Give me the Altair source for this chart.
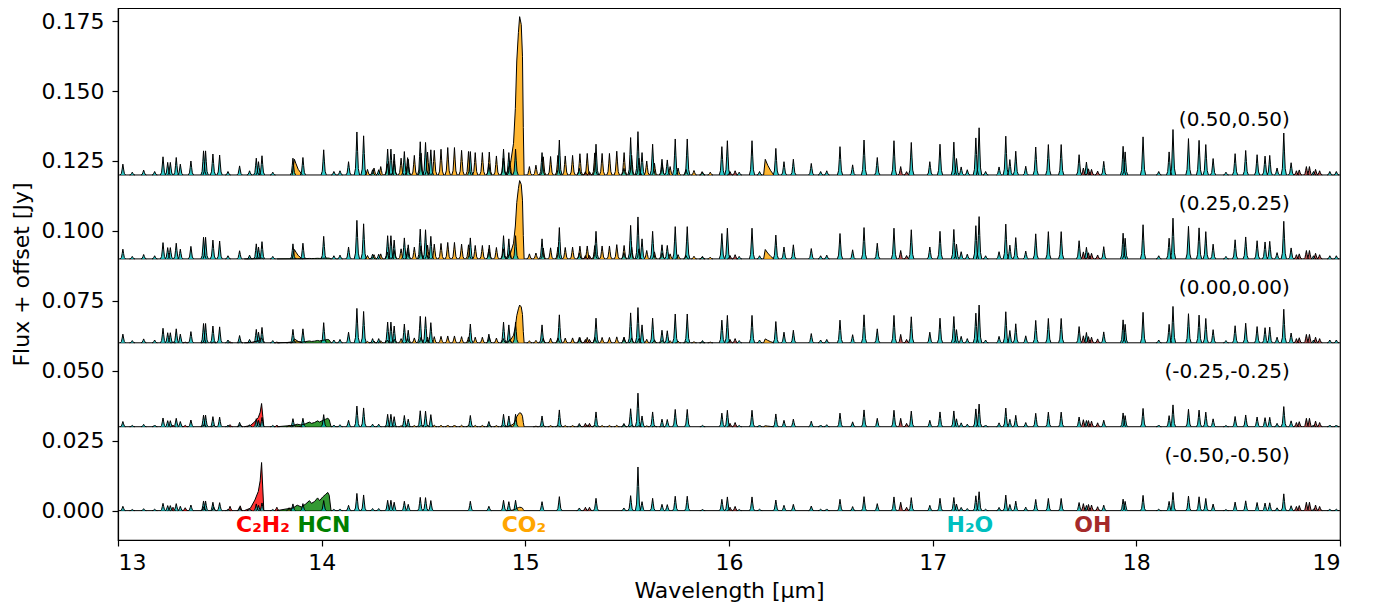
import altair as alt
import pandas as pd

# ---------------- data ----------------
MODELS = ["(0.50,0.50)", "(0.25,0.25)", "(0.00,0.00)", "(-0.25,-0.25)", "(-0.50,-0.50)"]
OFFSETS = [0.12, 0.09, 0.06, 0.03, 0.0]

# per-model strengths
H2O_SCALE = [1.25, 1.12, 1.0, 0.6, 0.5]
CO2_SCALE = [1.0, 0.6, 0.25, 0.06, 0.012]
CO2_Q_PEAK = [0.0566, 0.028, 0.0135, 0.005, 0.0012]
C2H2_PEAK = [0.0, 0.0003, 0.0018, 0.0083, 0.0172]
HCN_PEAK = [0.0, 0.0003, 0.0012, 0.003, 0.0065]

# H2O lines (wavelength [um], peak flux for the (0.00,0.00) model)
H2O_WL = [13.024, 13.07, 13.126, 13.18, 13.221, 13.244, 13.257, 13.286, 13.306, 13.358,
          13.420, 13.430, 13.466, 13.499, 13.54, 13.597, 13.646, 13.679, 13.690, 13.707,
          13.76, 13.859, 13.908, 14.010, 14.06, 14.09, 14.132, 14.173, 14.206, 14.25,
          14.28, 14.324, 14.340, 14.356, 14.406, 14.425, 14.484, 14.510, 14.536, 14.730,
          14.821, 14.893, 14.919, 14.952, 15.082, 15.167, 15.265, 15.347, 15.484, 15.517,
          15.573, 15.625, 15.671, 15.697, 15.736, 15.795, 15.87, 15.965, 15.992, 16.05,
          16.113, 16.15, 16.230, 16.270, 16.316, 16.404, 16.45, 16.48, 16.545, 16.607,
          16.663, 16.728, 16.810, 16.895, 16.986, 17.036, 17.104, 17.117, 17.140, 17.170,
          17.212, 17.228, 17.26, 17.326, 17.359, 17.379, 17.408, 17.457, 17.506, 17.568,
          17.631, 17.719, 17.755, 17.840, 17.935, 17.945, 18.033, 18.11, 18.161, 18.180,
          18.256, 18.308, 18.341, 18.377, 18.44, 18.485, 18.537, 18.593, 18.632, 18.655,
          18.691, 18.724, 18.760, 18.87, 18.95, 18.982]
H2O_H = [0.0031, 0.0008, 0.0014, 0.0010, 0.0052, 0.0036, 0.0036, 0.0050, 0.0031, 0.0040,
         0.0069, 0.0069, 0.0060, 0.0057, 0.0010, 0.0026, 0.0012, 0.0048, 0.0038, 0.0055,
         0.0008, 0.0048, 0.0050, 0.0072, 0.0010, 0.0012, 0.0038, 0.0123, 0.0112, 0.0015,
         0.0015, 0.0074, 0.0074, 0.0060, 0.0067, 0.0045, 0.0095, 0.0093, 0.0072, 0.0067,
         0.0031, 0.0074, 0.0064, 0.0074, 0.0064, 0.0100, 0.0019, 0.0088, 0.0019, 0.0107,
         0.0064, 0.0088, 0.0045, 0.0043, 0.0103, 0.0103, 0.0008, 0.0081, 0.0098, 0.0008,
         0.0098, 0.0010, 0.0076, 0.0038, 0.0045, 0.0033, 0.0010, 0.0012, 0.0081, 0.0029,
         0.0100, 0.0050, 0.0098, 0.0093, 0.0038, 0.0088, 0.0094, 0.0047, 0.0023, 0.0015,
         0.0106, 0.0135, 0.0010, 0.0023, 0.0111, 0.0044, 0.0068, 0.0025, 0.0080, 0.0087,
         0.0087, 0.0058, 0.0037, 0.0039, 0.0082, 0.0066, 0.0109, 0.0010, 0.0066, 0.0130,
         0.0104, 0.0099, 0.0087, 0.0047, 0.0008, 0.0061, 0.0070, 0.0058, 0.0054, 0.0056,
         0.0020, 0.0120, 0.0035, 0.0010, 0.0010, 0.0010]
# one strong line that does not follow the H2O scaling
STRONG_WL = 15.553
STRONG_H = [0.0155, 0.0150, 0.0126, 0.0120, 0.0156]

# OH lines (same in every model)
OH_WL = [15.295, 15.315, 16.005, 16.030, 16.843, 16.872, 17.740, 17.765, 17.780, 17.810,
         18.786, 18.800, 18.835, 18.850, 18.880, 18.900]
OH_H = [0.0012, 0.0012, 0.0012, 0.0015, 0.0030, 0.0012, 0.0025, 0.0022, 0.0020, 0.0014,
        0.0015, 0.0018, 0.0030, 0.0030, 0.0020, 0.0015]

# CO2 P/R branch lines (peak flux for the (0.50,0.50) model)
CO2_WL = [14.225, 14.257, 14.290, 14.323, 14.356, 14.390, 14.422, 14.455, 14.488, 14.520,
          14.553, 14.586, 14.619, 14.652, 14.687, 14.721, 14.754, 14.789, 14.823, 14.858,
          14.892, 14.924, 15.020, 15.052, 15.088, 15.124, 15.160, 15.196, 15.232, 15.268,
          15.304, 15.341, 15.377, 15.413, 15.449, 15.485, 15.522, 15.558, 15.596, 15.634,
          15.672, 15.711, 15.750, 15.789, 15.828, 15.868, 15.908]
CO2_H = [0.0020, 0.0025, 0.0030, 0.0040, 0.0050, 0.0060, 0.0062, 0.0070, 0.0078, 0.0082,
         0.0088, 0.0092, 0.0098, 0.0098, 0.0088, 0.0084, 0.0080, 0.0080, 0.0082, 0.0068,
         0.0060, 0.0050, 0.0030, 0.0035, 0.0065, 0.0066, 0.0070, 0.0068, 0.0070, 0.0076,
         0.0077, 0.0079, 0.0077, 0.0077, 0.0085, 0.0080, 0.0070, 0.0060, 0.0050, 0.0042,
         0.0035, 0.0030, 0.0025, 0.0020, 0.0016, 0.0012, 0.0010]
# CO2 Q-branch (relative shape)
CO2Q_WL = [14.905, 14.928, 14.942, 14.951, 14.958, 14.966, 14.972, 14.980, 14.986, 14.990, 14.994]
CO2Q_REL = [0.0, 0.08, 0.2, 0.42, 0.72, 0.9, 1.0, 0.95, 0.75, 0.3, 0.0]
# CO2 hot-band Q-branches (flux for the (0.50,0.50) model)
CO2HB1_WL = [13.855, 13.866, 13.874, 13.885, 13.905]
CO2HB1_H = [0.0, 0.0056, 0.0040, 0.0020, 0.0]
CO2HB2_WL = [16.170, 16.178, 16.190, 16.205, 16.220]
CO2HB2_H = [0.0, 0.0056, 0.0035, 0.0015, 0.0]

# C2H2 Q-branch (relative shape) and weak P/R lines (relative)
C2H2Q_WL = [13.620, 13.650, 13.672, 13.689, 13.698, 13.705, 13.711, 13.716]
C2H2Q_REL = [0.0, 0.05, 0.22, 0.4, 0.62, 1.0, 0.45, 0.0]
C2H2_WL = [13.27, 13.33, 13.42, 13.47, 13.55, 13.60, 13.78, 13.84]
C2H2_REL = [0.07, 0.06, 0.08, 0.07, 0.09, 0.1, 0.07, 0.06]

# HCN band (relative shape)
HCN_WL = [13.780, 13.820, 13.860, 13.880, 13.900, 13.920, 13.940, 13.950, 13.965, 13.980,
          13.990, 14.005, 14.020, 14.030, 14.037, 14.046]
HCN_REL = [0.0, 0.08, 0.15, 0.3, 0.2, 0.35, 0.55, 0.4, 0.5, 0.7, 0.55, 0.75, 0.9, 1.0, 0.85, 0.0]

MOLS = ["C2H2", "HCN", "CO2", "H2O", "OH"]
MOL_LABELS = ["C\u2082H\u2082", "HCN", "CO\u2082", "H\u2082O", "OH"]
MOL_COLORS = ["#ff0000", "#008000", "#ffa500", "#00bfbf", "#a52a2a"]
MOL_LABEL_X = [13.712, 14.011, 14.993, 17.183, 17.786]

# ---------------- build the table ----------------
PROFILE_DX = [-0.013, -0.007, -0.0035, 0.0, 0.0035, 0.007, 0.013]
PROFILE_FRAC = [0.0, 0.15, 0.55, 1.0, 0.55, 0.15, 0.0]

rows = []
counter = [0]


def add_poly(m, mol, wls, vals):
    if max(vals) < 0.0002:
        return
    counter[0] += 1
    pid = f"p{counter[0]}"
    for w, v in zip(wls, vals):
        rows.append({"mol": mol, "poly": pid, "wl": round(w, 5),
                     "top": round(OFFSETS[m] + v, 6), "base": OFFSETS[m]})


def add_line(m, mol, c, h):
    add_poly(m, mol, [c + d for d in PROFILE_DX], [h * f for f in PROFILE_FRAC])


for m in range(len(MODELS)):
    for w, h in zip(H2O_WL, H2O_H):
        add_line(m, "H2O", w, h * H2O_SCALE[m])
    add_line(m, "H2O", STRONG_WL, STRONG_H[m])
    for w, h in zip(OH_WL, OH_H):
        add_line(m, "OH", w, h)
    for w, h in zip(CO2_WL, CO2_H):
        add_line(m, "CO2", w, h * CO2_SCALE[m])
    add_poly(m, "CO2", CO2Q_WL, [r * CO2_Q_PEAK[m] for r in CO2Q_REL])
    add_poly(m, "CO2", CO2HB1_WL, [h * CO2_SCALE[m] for h in CO2HB1_H])
    add_poly(m, "CO2", CO2HB2_WL, [h * CO2_SCALE[m] for h in CO2HB2_H])
    add_poly(m, "C2H2", C2H2Q_WL, [r * C2H2_PEAK[m] for r in C2H2Q_REL])
    for w, r in zip(C2H2_WL, C2H2_REL):
        add_line(m, "C2H2", w, r * max(C2H2_PEAK[m], 0.004) if C2H2_PEAK[m] > 0.001 else 0.0)
    add_poly(m, "HCN", HCN_WL, [r * HCN_PEAK[m] for r in HCN_REL])

df = pd.DataFrame(rows)

base_df = pd.DataFrame({"x0": [13.0] * 5, "x1": [19.0] * 5, "off": OFFSETS})
LABEL_X = 18.754
LABEL_DY = 0.0196
lab_df = pd.DataFrame({"label": MODELS, "lx": [LABEL_X] * 5,
                       "ly": [o + LABEL_DY for o in OFFSETS]})
mol_df = pd.DataFrame({"label": MOL_LABELS, "mol": MOLS, "lx": MOL_LABEL_X,
                       "ly": [-0.0051] * 5})

# ---------------- encodings ----------------
XS = alt.Scale(domain=[13, 19], nice=False, zero=False)
YS = alt.Scale(domain=[-0.0105, 0.1797], nice=False, zero=False)
XAX = alt.Axis(values=[13, 14, 15, 16, 17, 18, 19], format="d", title="Wavelength [\u03bcm]",
               labelPadding=6, titlePadding=7)
YAX = alt.Axis(values=[0, 0.025, 0.05, 0.075, 0.1, 0.125, 0.15, 0.175], format=".3f",
               title="Flux + offset [Jy]", labelPadding=8, titlePadding=8)


def X(f):
    return alt.X(f, type="quantitative", scale=XS, axis=XAX)


def Y(f):
    return alt.Y(f, type="quantitative", scale=YS, axis=YAX, stack=None)


layers = []
for mol, col in zip(MOLS, MOL_COLORS):
    layers.append(
        alt.Chart(df).transform_filter(alt.datum.mol == mol)
        .mark_area(color=col, opacity=0.8, clip=True, interpolate="linear")
        .encode(x=X("wl"), y=Y("top"), y2=alt.Y2("base"), detail="poly:N")
    )

baseline = alt.Chart(base_df).mark_rule(color="black", strokeWidth=1, clip=True).encode(
    x=X("x0"), x2=alt.X2("x1"), y=Y("off"))

outline = alt.Chart(df).mark_line(color="black", strokeWidth=1, clip=True).encode(
    x=X("wl"), y=Y("top"), detail="poly:N")

labels = alt.Chart(lab_df).mark_text(align="right", baseline="middle", fontSize=20,
                                     font="DejaVu Sans", color="black").encode(
    x=X("lx"), y=Y("ly"), text="label:N")

mol_labels = alt.Chart(mol_df).mark_text(align="center", baseline="middle", fontSize=22,
                                         font="DejaVu Sans", fontWeight="bold").encode(
    x=X("lx"), y=Y("ly"), text="label:N",
    color=alt.Color("mol:N", scale=alt.Scale(domain=MOLS, range=MOL_COLORS), legend=None))

chart = alt.layer(baseline, *layers, outline, labels, mol_labels).properties(
    width=1222, height=532,
    autosize=alt.AutoSizeParams(type="none"),
    padding={"left": 110, "top": 0, "right": 20, "bottom": 68},
).configure_view(stroke="black", strokeWidth=1.2).configure_axis(
    labelFont="DejaVu Sans", titleFont="DejaVu Sans", labelFontSize=22, titleFontSize=22,
    titleFontWeight="normal", labelColor="black", titleColor="black",
    domainColor="black", tickColor="black", tickSize=6, grid=False, domainWidth=1.2,
    tickWidth=1.2,
)

chart.save("out.html", embed_options={"renderer": "svg", "actions": False})
